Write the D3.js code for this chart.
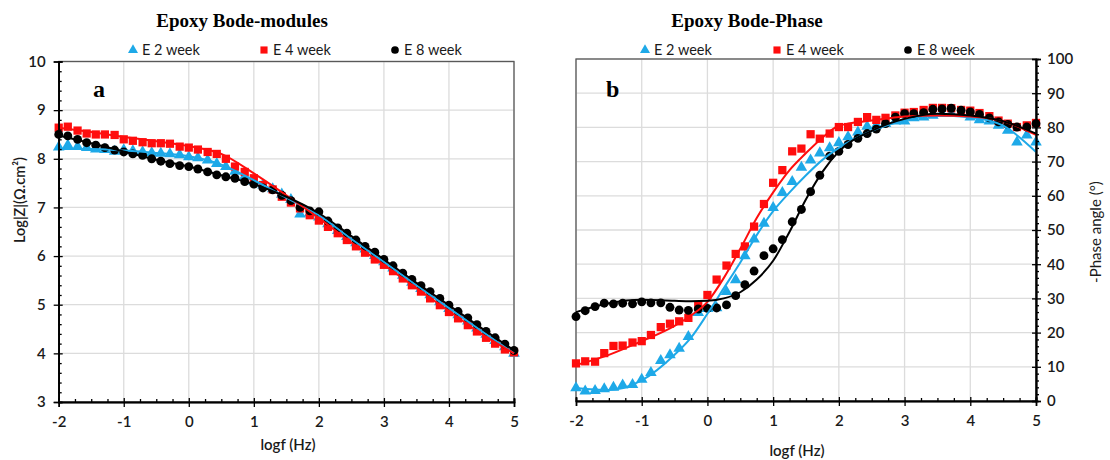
<!DOCTYPE html>
<html>
<head>
<meta charset="utf-8">
<script src="https://cdn.jsdelivr.net/npm/d3@7"></script>
<style>
  html, body { margin: 0; padding: 0; background: #fff; }
  svg { display: block; }
</style>
</head>
<body>
<svg id="chart" width="1110" height="460"></svg>
<script>
// log frequency of every measured point (7 per decade)
const freqLog = [-2, -1.86, -1.71, -1.57, -1.43, -1.29, -1.14, -1, -0.86, -0.71, -0.57, -0.43, -0.29, -0.14,
  0, 0.14, 0.29, 0.43, 0.57, 0.71, 0.86, 1, 1.14, 1.29, 1.43, 1.57, 1.71, 1.86,
  2, 2.14, 2.29, 2.43, 2.57, 2.71, 2.86, 3, 3.14, 3.29, 3.43, 3.57, 3.71, 3.86,
  4, 4.14, 4.29, 4.43, 4.57, 4.71, 4.86, 5]

// Bode modulus, Log|Z|
const modE2 = [8.24, 8.28, 8.25, 8.23, 8.20, 8.19, 8.15, 8.18, 8.16, 8.14, 8.12, 8.11, 8.10, 8.08,
  8.04, 8.02, 7.97, 7.90, 7.84, 7.74, 7.64, 7.54, 7.46, 7.38, 7.27, 7.16, 6.86, 6.88,
  6.80, 6.66, 6.52, 6.40, 6.27, 6.14, 6.01, 5.88, 5.75, 5.60, 5.46, 5.33, 5.20, 5.06,
  4.92, 4.79, 4.66, 4.52, 4.39, 4.26, 4.13, 4.00]
const modE4 = [8.64, 8.66, 8.58, 8.52, 8.50, 8.50, 8.49, 8.40, 8.37, 8.34, 8.32, 8.32, 8.31, 8.25,
  8.23, 8.19, 8.14, 8.10, 8.00, 7.84, 7.73, 7.60, 7.46, 7.37, 7.22, 7.10, 6.98, 6.84,
  6.73, 6.60, 6.47, 6.33, 6.20, 6.07, 5.93, 5.82, 5.69, 5.54, 5.40, 5.27, 5.13, 4.99,
  4.85, 4.72, 4.58, 4.45, 4.32, 4.20, 4.08, 4.02]
const modE8 = [8.50, 8.47, 8.40, 8.33, 8.28, 8.23, 8.18, 8.14, 8.10, 8.07, 8.00, 7.95, 7.90, 7.86,
  7.84, 7.79, 7.73, 7.67, 7.63, 7.60, 7.53, 7.48, 7.40, 7.36, 7.25, 7.14, 7.00, 6.93,
  6.91, 6.72, 6.58, 6.47, 6.33, 6.20, 6.08, 5.93, 5.80, 5.65, 5.52, 5.39, 5.27, 5.13,
  4.99, 4.86, 4.73, 4.59, 4.45, 4.32, 4.19, 4.06]

// Bode phase, -phase angle (deg)
const phaseE2 = [3.8, 2.9, 3.0, 3.5, 4.0, 4.6, 4.8, 6.3, 8.3, 11.8, 13.5, 15.4, 18.8, 25.8,
  27.0, 27.2, 32.0, 35.4, 42.4, 47.3, 51.9, 56.5, 60.9, 64.1, 68.3, 70.4, 72.5, 74.0,
  75.5, 77.2, 78.6, 80.3, 80.6, 81.1, 81.8, 81.8, 82.8, 83.0, 83.5, 84.0, 84.0, 84.0,
  83.0, 82.2, 81.8, 80.6, 79.1, 75.7, 77.7, 75.7]
const phaseE4 = [11.0, 11.6, 11.5, 14.0, 16.1, 16.2, 17.1, 17.5, 19.3, 21.6, 22.6, 23.3, 24.3, 28.0,
  31.0, 35.5, 39.6, 43.0, 45.2, 51.0, 57.6, 63.8, 67.5, 73.0, 73.8, 78.0, 76.7, 78.2,
  80.1, 80.1, 81.6, 83.0, 82.2, 82.8, 83.5, 84.3, 84.5, 85.1, 85.7, 85.7, 85.6, 85.1,
  84.9, 84.2, 83.3, 82.0, 81.1, 80.1, 80.6, 81.3]
const phaseE8 = [24.7, 26.4, 27.6, 28.6, 28.4, 28.6, 28.4, 29.0, 28.7, 28.7, 27.4, 26.6, 26.5, 26.9,
  27.1, 27.2, 28.1, 30.8, 34.0, 38.0, 42.5, 44.5, 47.2, 52.4, 56.0, 61.2, 66.0, 71.6,
  73.0, 75.0, 76.8, 78.2, 79.5, 81.1, 83.0, 84.0, 84.0, 84.3, 85.3, 85.4, 85.6, 85.0,
  84.5, 83.8, 82.8, 81.6, 80.9, 80.1, 80.1, 81.1]

// fitted curves (equivalent circuit)
const modFitX = [-2, -1.5, -1, -0.5, 0, 0.5, 1, 1.5, 2, 2.5, 3, 3.5, 4, 4.5, 5]
const modFitE2 = [8.20, 8.20, 8.17, 8.12, 8.05, 7.88, 7.56, 7.20, 6.84, 6.35, 5.88, 5.40, 4.93, 4.46, 4.00]
const modFitE4 = [8.64, 8.55, 8.45, 8.36, 8.26, 8.10, 7.70, 7.25, 6.78, 6.28, 5.82, 5.34, 4.87, 4.40, 4.00]
const modFitE8 = [8.48, 8.32, 8.15, 7.98, 7.84, 7.66, 7.48, 7.22, 6.88, 6.41, 5.93, 5.45, 4.99, 4.52, 4.06]

const phaseFitX = [-2, -1.5, -1, -0.5, -0.25, 0, 0.25, 0.5, 0.75, 1, 1.25, 1.5, 1.75, 2, 2.5, 3, 3.5, 4, 4.5, 5]
const phaseFitE2 = [3.8, 3.2, 6.0, 13.5, 18.5, 25.5, 33.0, 40.5, 48.5, 55.5, 61.0, 66.0, 70.5, 74.0, 79.0, 82.0, 83.5, 83.0, 80.5, 72.8]
const phaseFitE4 = [10.5, 13.5, 17.5, 22.0, 25.0, 29.0, 36.0, 44.5, 53.5, 61.0, 67.5, 72.5, 77.0, 80.5, 82.0, 83.2, 83.5, 83.2, 81.8, 77.8]
const phaseFitE8 = [26.0, 28.6, 29.6, 29.3, 29.2, 29.3, 30.0, 31.8, 35.5, 41.0, 49.5, 59.0, 67.0, 73.0, 79.0, 82.5, 84.0, 83.5, 81.8, 78.2]

const seriesNames = ['E 2 week', 'E 4 week', 'E 8 week']
const seriesColors = ['#1ea9e8', '#ff0d0d', '#000000']
const seriesShapes = [d3.symbolTriangle, d3.symbolSquare, d3.symbolCircle]
const seriesSizes = [58, 68, 62]

const xTicks = [-2, -1, 0, 1, 2, 3, 4, 5]
const modTicks = [3, 4, 5, 6, 7, 8, 9, 10]
const phaseTicks = [0, 10, 20, 30, 40, 50, 60, 70, 80, 90, 100]

const svg = d3.select('#chart')
const sansFont = 'Lato, "Open Sans", sans-serif'
const serifFont = '"Liberation Serif", "DejaVu Serif", serif'
const textColor = '#1a1a1a'

function drawPanel(opts) {
  const { left, right, top, bottom, yDomain, yTicks, yMinorStep, axisRight, points, fitX, fits } = opts
  const x = d3.scaleLinear().domain([-2, 5]).range([left, right])
  const y = d3.scaleLinear().domain(yDomain).range([bottom, top])
  const g = svg.append('g')

  // grid
  g.append('g').selectAll('line').data(xTicks).join('line')
    .attr('x1', (d) => x(d)).attr('x2', (d) => x(d))
    .attr('y1', top).attr('y2', bottom)
    .attr('stroke', '#dcdcdc').attr('stroke-width', 1.3)
  g.append('g').selectAll('line').data(yTicks).join('line')
    .attr('x1', left).attr('x2', right)
    .attr('y1', (d) => y(d)).attr('y2', (d) => y(d))
    .attr('stroke', '#dcdcdc').attr('stroke-width', 1.3)

  // frame
  g.append('rect')
    .attr('x', left).attr('y', top)
    .attr('width', right - left).attr('height', bottom - top)
    .attr('fill', 'none').attr('stroke', '#595959').attr('stroke-width', 1.3)

  // markers
  points.forEach((vals, i) => {
    const sym = d3.symbol().type(seriesShapes[i]).size(seriesSizes[i])
    g.append('g').selectAll('path').data(vals).join('path')
      .attr('d', sym)
      .attr('transform', (d, idx) => `translate(${x(freqLog[idx])},${y(d)})`)
      .attr('fill', seriesColors[i])
  })

  // fit lines
  const line = d3.line()
    .x((d, idx) => x(fitX[idx]))
    .y((d) => y(d))
    .curve(d3.curveMonotoneX)
  fits.forEach((vals, i) => {
    g.append('path')
      .datum(vals)
      .attr('d', line)
      .attr('fill', 'none')
      .attr('stroke', seriesColors[i])
      .attr('stroke-width', 2)
  })

  // axes
  const xMinor = d3.range(-2, 5.001, 0.25).filter((d) => !Number.isInteger(d))
  const yMinor = d3.range(yDomain[0], yDomain[1] + 0.001, yMinorStep)
    .map((d) => +d.toFixed(2))
    .filter((d) => yTicks.indexOf(d) < 0)

  const xAxis = g.append('g').attr('transform', `translate(0,${bottom})`)
  xAxis.call(d3.axisBottom(x).tickValues(xTicks).tickSize(5).tickPadding(9).tickFormat((d) => String(d)))
  xAxis.call((a) => a.append('g').call(d3.axisTop(x).tickValues(xTicks).tickSize(4).tickFormat('')))
  xAxis.call((a) => a.append('g').call(d3.axisTop(x).tickValues(xMinor).tickSize(3).tickFormat('')))

  const yAxis = g.append('g').attr('transform', `translate(${axisRight ? right : left},0)`)
  const outer = axisRight ? d3.axisRight : d3.axisLeft
  const inner = axisRight ? d3.axisLeft : d3.axisRight
  yAxis.call(outer(y).tickValues(yTicks).tickSize(5).tickPadding(axisRight ? 6 : 8).tickFormat((d) => String(d)))
  yAxis.call((a) => a.append('g').call(inner(y).tickValues(yTicks).tickSize(4).tickFormat('')))
  yAxis.call((a) => a.append('g').call((axisRight ? outer : inner)(y).tickValues(yMinor).tickSize(3).tickFormat('')))

  g.selectAll('.domain').attr('stroke', '#000').attr('stroke-width', 1.6)
  g.selectAll('.tick line').attr('stroke', '#000').attr('stroke-width', 1.3)
  g.selectAll('.tick text')
    .attr('font-family', sansFont).attr('font-size', 15).attr('font-weight', 600)
    .attr('fill', textColor)

  return { x, y }
}

function drawLegend(xs, yPos) {
  const lg = svg.append('g')
  seriesNames.forEach((name, i) => {
    lg.append('path')
      .attr('d', d3.symbol().type(seriesShapes[i]).size(seriesSizes[i] * 0.75))
      .attr('transform', `translate(${xs[i]},${yPos})`)
      .attr('fill', seriesColors[i])
    lg.append('text')
      .attr('x', xs[i] + 9).attr('y', yPos + 5)
      .attr('font-family', sansFont).attr('font-size', 14.5)
      .attr('fill', textColor)
      .text(name)
  })
}

// panel a
drawPanel({
  left: 58.7, right: 514, top: 61.5, bottom: 402,
  yDomain: [3, 10], yTicks: modTicks, yMinorStep: 0.2, axisRight: false,
  points: [modE2, modE4, modE8],
  fitX: modFitX, fits: [modFitE2, modFitE4, modFitE8],
})

// panel b
drawPanel({
  left: 576, right: 1036, top: 59, bottom: 401,
  yDomain: [0, 100], yTicks: phaseTicks, yMinorStep: 2, axisRight: true,
  points: [phaseE2, phaseE4, phaseE8],
  fitX: phaseFitX, fits: [phaseFitE2, phaseFitE4, phaseFitE8],
})

drawLegend([133, 264, 395], 50)
drawLegend([645, 777, 908], 50)

// titles
svg.append('text').attr('x', 242).attr('y', 27).attr('text-anchor', 'middle')
  .attr('font-family', serifFont).attr('font-weight', 'bold').attr('font-size', 19)
  .text('Epoxy Bode-modules')
svg.append('text').attr('x', 747).attr('y', 27).attr('text-anchor', 'middle')
  .attr('font-family', serifFont).attr('font-weight', 'bold').attr('font-size', 19)
  .text('Epoxy Bode-Phase')

// panel letters
svg.append('text').attr('x', 93).attr('y', 97)
  .attr('font-family', serifFont).attr('font-weight', 'bold').attr('font-size', 24)
  .text('a')
svg.append('text').attr('x', 606).attr('y', 97)
  .attr('font-family', serifFont).attr('font-weight', 'bold').attr('font-size', 24)
  .text('b')

// axis titles
svg.append('text').attr('x', 288).attr('y', 450).attr('text-anchor', 'middle')
  .attr('font-family', sansFont).attr('font-size', 15).attr('font-weight', 600).attr('fill', textColor)
  .text('logf (Hz)')
svg.append('text').attr('x', 797).attr('y', 456).attr('text-anchor', 'middle')
  .attr('font-family', sansFont).attr('font-size', 15).attr('font-weight', 600).attr('fill', textColor)
  .text('logf (Hz)')
svg.append('text').attr('transform', 'translate(25,200) rotate(-90)').attr('text-anchor', 'middle')
  .attr('font-family', sansFont).attr('font-size', 14.5).attr('font-weight', 600).attr('fill', textColor)
  .text('Log|Z|(Ω.cm²)')
svg.append('text').attr('transform', 'translate(1101,232) rotate(-90)').attr('text-anchor', 'middle')
  .attr('font-family', sansFont).attr('font-size', 15).attr('fill', textColor)
  .text('-Phase angle (°)')
</script>
</body>
</html>
